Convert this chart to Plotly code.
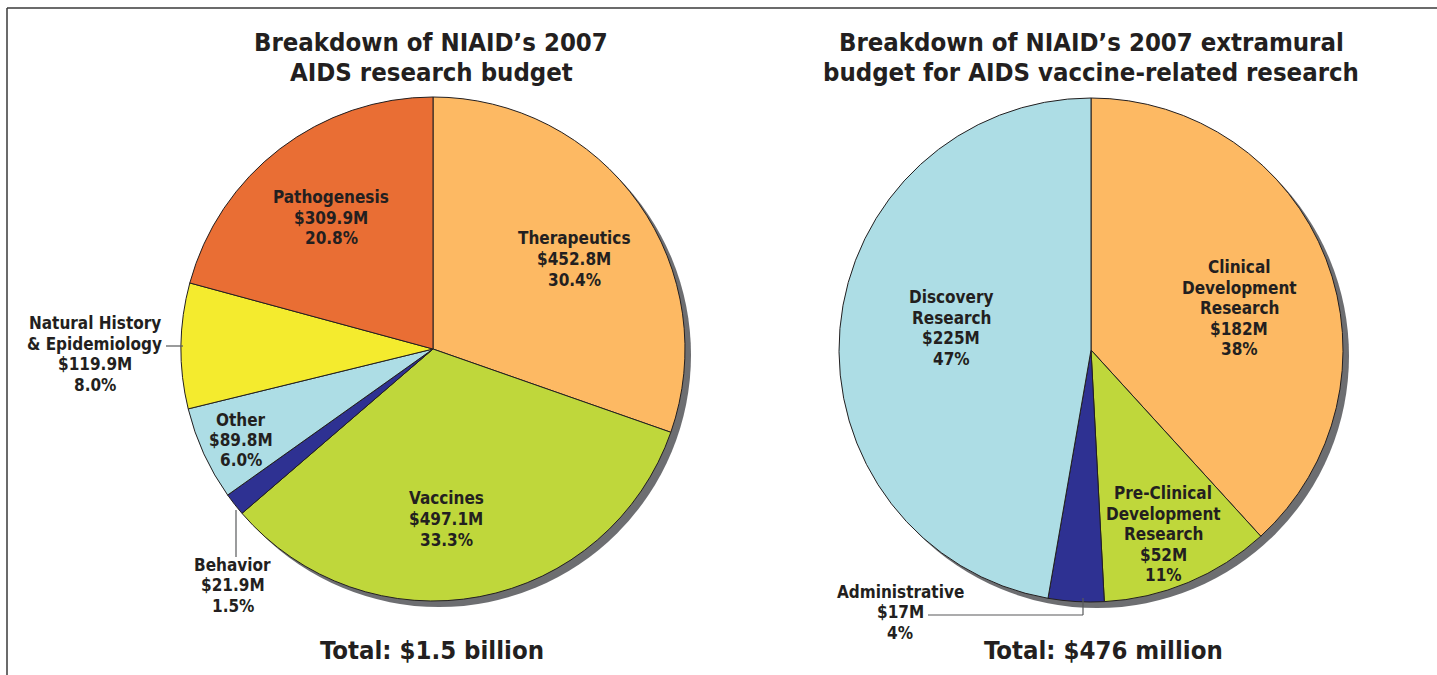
import plotly.graph_objects as go

# ---------------- data ----------------
pie1_labels = ["Therapeutics", "Vaccines", "Behavior", "Other",
               "Natural History|& Epidemiology", "Pathogenesis"]
pie1_values = [452.8, 497.1, 21.9, 89.8, 119.9, 309.9]
pie1_colors = ["#FDB963", "#BFD73B", "#2E3192", "#ADDDE5", "#F4EB2E", "#E96E34"]

pie2_labels = ["Clinical|Development|Research", "Pre-Clinical|Development|Research",
               "Administrative", "Discovery|Research"]
pie2_values = [182, 52, 17, 225]
pie2_colors = ["#FDB963", "#BFD73B", "#2E3192", "#ADDDE5"]

title1 = ["Breakdown of NIAID\u2019s 2007", "AIDS research budget"]
title2 = ["Breakdown of NIAID\u2019s 2007 extramural", "budget for AIDS vaccine-related research"]
total1 = "Total: $1.5 billion"
total2 = "Total: $476 million"

# ---------------- layout helpers ----------------
W, H = 1437, 675
FONT = "Liberation Sans Narrow, Arial Narrow, DejaVu Sans Condensed, Roboto Condensed, sans-serif"
TXT = "#231F20"

def px(x):
    return x / W

def py(y):
    return 1 - y / H

# pie geometry (pixels): center x, center y, radius
P1 = (433, 349, 252)
P2 = (1091, 350, 252)
SH = (6, 6)  # shadow offset

def domain(c):
    cx, cy, r = c
    return dict(x=[px(cx - r), px(cx + r)], y=[py(cy + r), py(cy - r)])

fig = go.Figure()
for vals, cols, geo in [(pie1_values, pie1_colors, P1), (pie2_values, pie2_colors, P2)]:
    fig.add_trace(go.Pie(values=vals, sort=False, direction="clockwise", rotation=0,
                         marker=dict(colors=cols, line=dict(color=TXT, width=1)),
                         textinfo="none", hoverinfo="skip", domain=domain(geo),
                         showlegend=False))

shapes = []
for cx, cy, r in [P1, P2]:
    shapes.append(dict(type="circle", xref="paper", yref="paper", layer="below",
                       x0=px(cx - r + SH[0]), x1=px(cx + r + SH[0]),
                       y0=py(cy + r + SH[1]), y1=py(cy - r + SH[1]),
                       fillcolor="#6D6E71", line=dict(width=0)))
# frame
shapes.append(dict(type="line", xref="paper", yref="paper", x0=px(7), x1=1, y0=py(8), y1=py(8),
                   line=dict(color="#3A3A3A", width=1.5)))
shapes.append(dict(type="line", xref="paper", yref="paper", x0=px(7), x1=px(7), y0=py(8), y1=0,
                   line=dict(color="#3A3A3A", width=1.5)))
# leader lines
LEAD = dict(color="#58595B", width=1.2)
for (x0, y0, x1, y1) in [(166, 346, 183, 346), (236, 510, 236, 557),
                         (928, 615, 1083, 615), (1083, 615, 1083, 598)]:
    shapes.append(dict(type="line", xref="paper", yref="paper", x0=px(x0), x1=px(x1),
                       y0=py(y0), y1=py(y1), line=LEAD))

annotations = []

def add_lines(lines, cx, cy, size, pitch):
    n = len(lines)
    top = cy - pitch * (n - 1) / 2
    for i, t in enumerate(lines):
        annotations.append(dict(text=f"<b>{t}</b>", x=px(cx), y=py(top + i * pitch),
                                xref="paper", yref="paper", showarrow=False,
                                xanchor="center", yanchor="middle",
                                font=dict(family=FONT, size=size, color=TXT)))

# label positions (pixels, block centers)
pos1 = [(574, 259), (446, 519), (233, 585), (241, 440), (95, 354), (331, 218)]
pos2 = [(1239, 308), (1163, 534), (900, 612), (951, 328)]

tot1 = sum(pie1_values)
for lab, v, (x, y) in zip(pie1_labels, pie1_values, pos1):
    lines = lab.split("|") + [f"${v:.1f}M", f"{100 * v / tot1:.1f}%"]
    add_lines(lines, x, y, 17, 20.5)

tot2 = sum(pie2_values)
for lab, v, (x, y) in zip(pie2_labels, pie2_values, pos2):
    lines = lab.split("|") + [f"${v:.0f}M", f"{100 * v / tot2:.0f}%"]
    add_lines(lines, x, y, 17, 20.5)

add_lines(title1, 431, 57, 25.5, 30)
add_lines(title2, 1091, 57, 25.5, 30)
add_lines([total1], 432, 650, 25.5, 30)
add_lines([total2], 1103, 650, 25.5, 30)

fig.update_layout(width=W, height=H, margin=dict(l=0, r=0, t=0, b=0),
                  paper_bgcolor="white", plot_bgcolor="white",
                  shapes=shapes, annotations=annotations, showlegend=False)

fig.write_html("out.html", config={"displayModeBar": False},
               post_script="document.body.style.margin='0px';document.body.style.overflow='hidden';")
